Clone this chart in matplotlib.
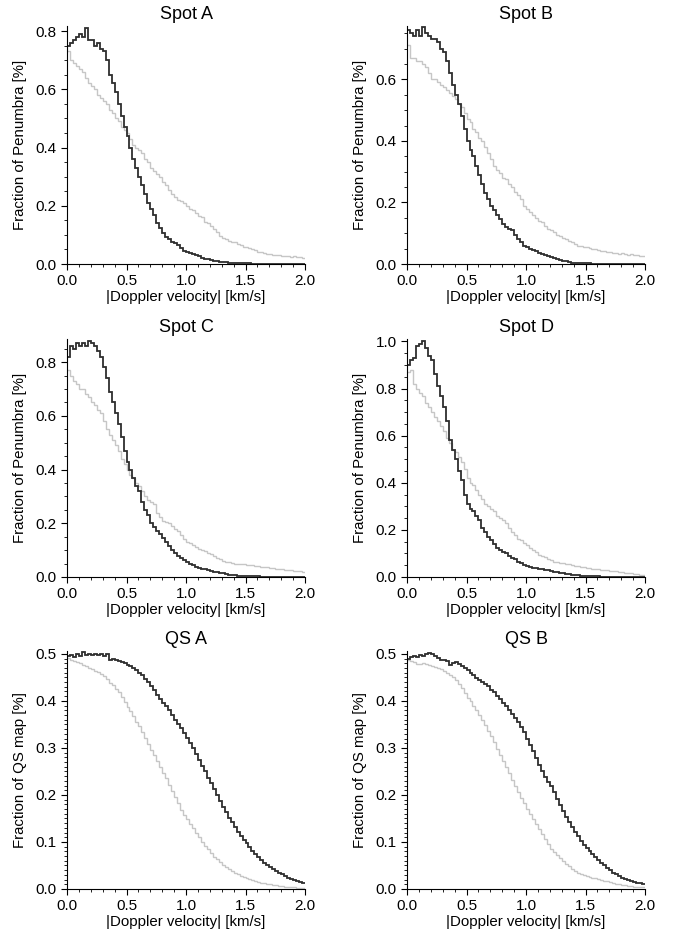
import numpy as np
import matplotlib
matplotlib.use("Agg")
import matplotlib.pyplot as plt
from matplotlib.ticker import MultipleLocator, FormatStrFormatter

plt.rcParams["font.family"] = ["Liberation Sans", "DejaVu Sans"]

# ── data: histograms of |Doppler velocity|, 0.025 km/s bins from 0 to 2 km/s ──

bin_edges = np.linspace(0.0, 2.0, 81)

spot_a_dark = [
    0.75, 0.76, 0.77, 0.78, 0.79, 0.78, 0.81, 0.77, 0.77, 0.75,
    0.76, 0.74, 0.73, 0.70, 0.65, 0.62, 0.59, 0.55, 0.51, 0.47,
    0.44, 0.40, 0.36, 0.33, 0.30, 0.27, 0.24, 0.21, 0.19, 0.17,
    0.14, 0.125, 0.105, 0.092, 0.085, 0.077, 0.072, 0.064, 0.056, 0.046,
    0.040, 0.037, 0.033, 0.030, 0.026, 0.022, 0.019, 0.016, 0.013, 0.011,
    0.009, 0.008, 0.007, 0.006, 0.005, 0.004, 0.004, 0.003, 0.003, 0.002,
    0.002, 0.002, 0.001, 0.001, 0.001, 0.001, 0.001, 0.001, 0.0005, 0.0005,
    0.0005, 0.0005, 0.0005, 0.0005, 0.0005, 0.0005, 0.0005, 0.0005, 0.0, 0.0,
]
spot_a_light = [
    0.73, 0.70, 0.69, 0.68, 0.67, 0.66, 0.64, 0.62, 0.61, 0.60,
    0.58, 0.57, 0.56, 0.55, 0.53, 0.52, 0.50, 0.49, 0.47, 0.46,
    0.45, 0.43, 0.41, 0.40, 0.39, 0.38, 0.36, 0.35, 0.33, 0.32,
    0.31, 0.30, 0.28, 0.27, 0.255, 0.24, 0.23, 0.22, 0.215, 0.208,
    0.20, 0.19, 0.185, 0.175, 0.165, 0.16, 0.145, 0.14, 0.13, 0.12,
    0.11, 0.095, 0.09, 0.085, 0.08, 0.077, 0.075, 0.07, 0.065, 0.06,
    0.058, 0.055, 0.05, 0.047, 0.043, 0.04, 0.038, 0.035, 0.033, 0.032,
    0.030, 0.031, 0.028, 0.029, 0.027, 0.025, 0.026, 0.024, 0.023, 0.022,
]

spot_b_dark = [
    0.76, 0.75, 0.74, 0.76, 0.74, 0.77, 0.75, 0.74, 0.73, 0.73,
    0.72, 0.70, 0.69, 0.66, 0.62, 0.58, 0.55, 0.52, 0.48, 0.44,
    0.40, 0.37, 0.35, 0.32, 0.29, 0.26, 0.23, 0.21, 0.19, 0.175,
    0.16, 0.145, 0.13, 0.12, 0.115, 0.11, 0.095, 0.08, 0.07, 0.06,
    0.055, 0.05, 0.046, 0.042, 0.037, 0.032, 0.030, 0.027, 0.024, 0.020,
    0.017, 0.014, 0.011, 0.009, 0.007, 0.005, 0.004, 0.003, 0.003, 0.002,
    0.002, 0.002, 0.001, 0.001, 0.001, 0.001, 0.001, 0.001, 0.0005, 0.0005,
    0.0005, 0.0005, 0.0005, 0.0005, 0.0005, 0.0005, 0.0005, 0.0005, 0.0, 0.0,
]
spot_b_light = [
    0.71, 0.67, 0.67, 0.66, 0.66, 0.65, 0.64, 0.62, 0.60, 0.60,
    0.59, 0.58, 0.575, 0.565, 0.555, 0.545, 0.535, 0.52, 0.51, 0.49,
    0.47, 0.46, 0.44, 0.43, 0.41, 0.40, 0.38, 0.36, 0.34, 0.32,
    0.305, 0.295, 0.28, 0.275, 0.26, 0.25, 0.235, 0.225, 0.21, 0.19,
    0.18, 0.17, 0.16, 0.15, 0.14, 0.135, 0.125, 0.115, 0.11, 0.105,
    0.095, 0.09, 0.085, 0.08, 0.075, 0.07, 0.065, 0.06, 0.058, 0.055,
    0.054, 0.052, 0.05, 0.048, 0.045, 0.043, 0.041, 0.039, 0.038, 0.037,
    0.036, 0.034, 0.035, 0.032, 0.031, 0.033, 0.029, 0.028, 0.026, 0.025,
]

spot_c_dark = [
    0.82, 0.86, 0.85, 0.87, 0.86, 0.87, 0.86, 0.88, 0.87, 0.86,
    0.84, 0.82, 0.78, 0.74, 0.69, 0.65, 0.61, 0.57, 0.52, 0.47,
    0.43, 0.40, 0.37, 0.34, 0.32, 0.28, 0.25, 0.23, 0.20, 0.185,
    0.17, 0.16, 0.145, 0.13, 0.115, 0.10, 0.09, 0.08, 0.072, 0.063,
    0.055, 0.048, 0.043, 0.039, 0.035, 0.031, 0.028, 0.025, 0.022, 0.020,
    0.017, 0.015, 0.013, 0.011, 0.009, 0.007, 0.006, 0.005, 0.004, 0.004,
    0.003, 0.003, 0.002, 0.002, 0.002, 0.001, 0.001, 0.001, 0.001, 0.001,
    0.001, 0.001, 0.0005, 0.0005, 0.0005, 0.0005, 0.0005, 0.0005, 0.0005, 0.0,
]
spot_c_light = [
    0.77, 0.75, 0.73, 0.72, 0.70, 0.70, 0.68, 0.67, 0.65, 0.64,
    0.62, 0.61, 0.58, 0.55, 0.53, 0.51, 0.49, 0.47, 0.44, 0.42,
    0.40, 0.38, 0.37, 0.35, 0.34, 0.32, 0.30, 0.285, 0.28, 0.27,
    0.24, 0.225, 0.21, 0.205, 0.20, 0.19, 0.18, 0.17, 0.155, 0.14,
    0.13, 0.125, 0.12, 0.11, 0.105, 0.10, 0.095, 0.09, 0.085, 0.08,
    0.072, 0.066, 0.06, 0.057, 0.055, 0.052, 0.05, 0.05, 0.048, 0.047,
    0.046, 0.045, 0.043, 0.042, 0.04, 0.038, 0.037, 0.036, 0.034, 0.032,
    0.031, 0.03, 0.028, 0.027, 0.026, 0.025, 0.024, 0.022, 0.021, 0.019,
]

spot_d_dark = [
    0.90, 0.92, 0.93, 0.98, 0.99, 1.00, 0.97, 0.94, 0.92, 0.86,
    0.81, 0.77, 0.72, 0.66, 0.58, 0.54, 0.50, 0.45, 0.41, 0.35,
    0.31, 0.29, 0.28, 0.26, 0.24, 0.21, 0.19, 0.17, 0.155, 0.14,
    0.125, 0.115, 0.105, 0.10, 0.09, 0.08, 0.075, 0.065, 0.058, 0.05,
    0.045, 0.042, 0.040, 0.037, 0.035, 0.033, 0.030, 0.028, 0.026, 0.023,
    0.020, 0.017, 0.015, 0.013, 0.011, 0.009, 0.008, 0.007, 0.006, 0.005,
    0.004, 0.004, 0.003, 0.003, 0.003, 0.002, 0.002, 0.002, 0.002, 0.001,
    0.001, 0.001, 0.001, 0.001, 0.001, 0.0005, 0.0005, 0.0005, 0.0005, 0.0005,
]
spot_d_light = [
    0.87, 0.88, 0.82, 0.80, 0.78, 0.77, 0.74, 0.72, 0.70, 0.68,
    0.66, 0.64, 0.62, 0.59, 0.57, 0.54, 0.53, 0.51, 0.49, 0.46,
    0.42, 0.40, 0.39, 0.37, 0.35, 0.33, 0.31, 0.30, 0.29, 0.28,
    0.26, 0.25, 0.24, 0.23, 0.21, 0.19, 0.18, 0.16, 0.155, 0.145,
    0.135, 0.125, 0.115, 0.105, 0.095, 0.09, 0.085, 0.075, 0.07, 0.065,
    0.062, 0.06, 0.058, 0.056, 0.054, 0.05, 0.048, 0.046, 0.044, 0.042,
    0.040, 0.038, 0.036, 0.035, 0.033, 0.031, 0.030, 0.028, 0.027, 0.025,
    0.024, 0.022, 0.021, 0.019, 0.017, 0.016, 0.014, 0.012, 0.010, 0.008,
]

qs_a_dark = [
    0.495, 0.497, 0.494, 0.499, 0.496, 0.503, 0.498, 0.500, 0.497, 0.499,
    0.497, 0.500, 0.496, 0.499, 0.488, 0.489, 0.486, 0.485, 0.483, 0.481,
    0.477, 0.474, 0.470, 0.466, 0.459, 0.455, 0.447, 0.440, 0.432, 0.423,
    0.412, 0.405, 0.396, 0.390, 0.381, 0.370, 0.360, 0.351, 0.342, 0.331,
    0.321, 0.311, 0.300, 0.288, 0.275, 0.262, 0.250, 0.237, 0.225, 0.213,
    0.200, 0.187, 0.175, 0.163, 0.152, 0.142, 0.132, 0.122, 0.113, 0.105,
    0.097, 0.089, 0.081, 0.074, 0.067, 0.061, 0.056, 0.051, 0.046, 0.042,
    0.038, 0.034, 0.031, 0.027, 0.024, 0.021, 0.019, 0.017, 0.015, 0.013,
]
qs_a_light = [
    0.492, 0.488, 0.485, 0.483, 0.481, 0.477, 0.474, 0.471, 0.467, 0.464,
    0.461, 0.458, 0.452, 0.447, 0.439, 0.434, 0.426, 0.419, 0.409, 0.398,
    0.388, 0.378, 0.368, 0.356, 0.346, 0.334, 0.321, 0.309, 0.296, 0.286,
    0.272, 0.260, 0.246, 0.235, 0.222, 0.209, 0.196, 0.183, 0.169, 0.158,
    0.148, 0.139, 0.129, 0.119, 0.110, 0.100, 0.092, 0.084, 0.076, 0.069,
    0.063, 0.057, 0.052, 0.047, 0.042, 0.038, 0.035, 0.031, 0.028, 0.026,
    0.023, 0.021, 0.019, 0.017, 0.015, 0.013, 0.012, 0.011, 0.010, 0.009,
    0.008, 0.007, 0.006, 0.005, 0.005, 0.004, 0.004, 0.003, 0.003, 0.002,
]

qs_b_dark = [
    0.490, 0.493, 0.496, 0.494, 0.497, 0.495, 0.499, 0.502, 0.499, 0.496,
    0.491, 0.488, 0.486, 0.484, 0.477, 0.480, 0.483, 0.479, 0.474, 0.470,
    0.466, 0.460, 0.454, 0.448, 0.444, 0.441, 0.436, 0.432, 0.424, 0.418,
    0.410, 0.403, 0.396, 0.390, 0.381, 0.372, 0.364, 0.355, 0.345, 0.333,
    0.320, 0.306, 0.293, 0.278, 0.264, 0.250, 0.238, 0.228, 0.218, 0.206,
    0.192, 0.178, 0.166, 0.153, 0.142, 0.132, 0.121, 0.112, 0.102, 0.094,
    0.087, 0.080, 0.074, 0.068, 0.062, 0.056, 0.050, 0.045, 0.040, 0.035,
    0.031, 0.027, 0.024, 0.021, 0.019, 0.017, 0.015, 0.013, 0.012, 0.011,
]
qs_b_light = [
    0.486, 0.484, 0.482, 0.479, 0.478, 0.481, 0.479, 0.476, 0.474, 0.473,
    0.471, 0.468, 0.463, 0.459, 0.455, 0.450, 0.444, 0.435, 0.427, 0.416,
    0.407, 0.399, 0.389, 0.380, 0.369, 0.360, 0.348, 0.337, 0.325, 0.313,
    0.298, 0.285, 0.272, 0.259, 0.246, 0.232, 0.219, 0.207, 0.194, 0.183,
    0.171, 0.160, 0.149, 0.138, 0.128, 0.117, 0.106, 0.095, 0.085, 0.078,
    0.072, 0.065, 0.059, 0.053, 0.048, 0.043, 0.038, 0.034, 0.031, 0.029,
    0.027, 0.026, 0.024, 0.023, 0.021, 0.020, 0.018, 0.016, 0.014, 0.012,
    0.011, 0.010, 0.009, 0.008, 0.007, 0.006, 0.005, 0.005, 0.004, 0.004,
]

titles = ["Spot A", "Spot B", "Spot C", "Spot D", "QS A", "QS B"]
dark_series = [spot_a_dark, spot_b_dark, spot_c_dark, spot_d_dark, qs_a_dark, qs_b_dark]
light_series = [spot_a_light, spot_b_light, spot_c_light, spot_d_light, qs_a_light, qs_b_light]
y_tops = [0.817, 0.773, 0.886, 1.01, 0.506, 0.506]

# ── layout (figure fractions, 681 x 935 px) ──────────────────────────────────

col_x = [0.0984, 0.5977]
row_y = [0.7176, 0.3829, 0.0492]
ax_w, ax_h = 0.3495, 0.2545

DARK = "#2e2e2e"
LIGHT = "#c6c6c6"

fig = plt.figure(figsize=(6.81, 9.35), dpi=100)

for i, title in enumerate(titles):
    row, col = divmod(i, 2)
    ax = fig.add_axes([col_x[col], row_y[row], ax_w, ax_h])

    ax.stairs(light_series[i], bin_edges, baseline=None, color=LIGHT, lw=1.0)
    ax.stairs(dark_series[i], bin_edges, baseline=None, color=DARK, lw=1.3)

    ax.set_xlim(0, 2.0)
    ax.set_ylim(0, y_tops[i])
    ax.set_title(title, fontsize=13, pad=5)
    ax.set_xlabel("|Doppler velocity| [km/s]", fontsize=10.8, labelpad=1)

    qs = title.startswith("QS")
    ax.set_ylabel("Fraction of QS map [%]" if qs else "Fraction of Penumbra [%]",
                  fontsize=10.8, labelpad=6)

    ax.xaxis.set_major_locator(MultipleLocator(0.5))
    ax.xaxis.set_minor_locator(MultipleLocator(0.1))
    ax.xaxis.set_major_formatter(FormatStrFormatter("%.1f"))
    ax.yaxis.set_major_locator(MultipleLocator(0.1 if qs else 0.2))
    ax.yaxis.set_minor_locator(MultipleLocator(0.01 if qs else 0.05))
    ax.yaxis.set_major_formatter(FormatStrFormatter("%.1f"))

    ax.tick_params(which="major", direction="out", length=4, width=0.8, labelsize=11)
    ax.tick_params(which="minor", direction="out", length=2, width=0.6)

    for side in ("top", "right"):
        ax.spines[side].set_visible(False)
    for side in ("left", "bottom"):
        ax.spines[side].set_linewidth(0.8)

fig.savefig("out.png", dpi=100)
